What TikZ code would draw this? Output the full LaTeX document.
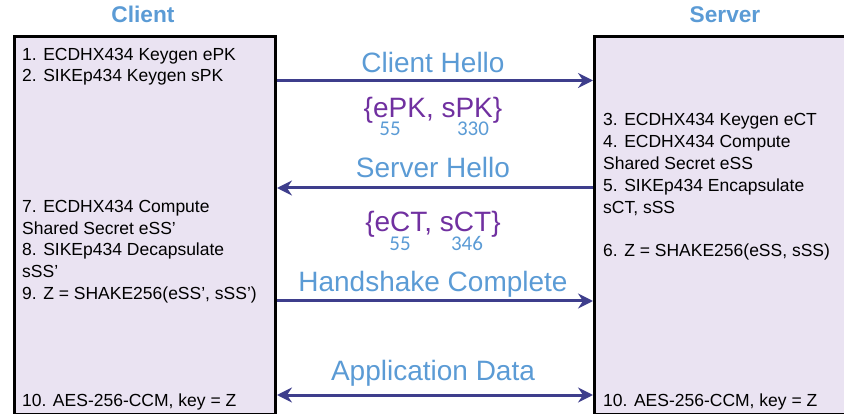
\documentclass[tikz,border=0pt]{standalone}
\usepackage{fontspec}
\setmainfont{Liberation Sans}
\newfontfamily\subfont{Carlito}
\usepackage{tikz}
\usetikzlibrary{arrows.meta,positioning}
\definecolor{partyfill}{RGB}{234,227,242}
\definecolor{msgline}{RGB}{62,62,140}
\definecolor{msgblue}{RGB}{91,155,213}
\definecolor{keypurple}{RGB}{112,48,160}
\tikzstyle{party}=[draw=black, line width=3pt, fill=partyfill, anchor=north west, minimum height=378pt, inner sep=0pt]
\tikzstyle{steps}=[anchor=base west, align=left, inner sep=0pt, font=\fontsize{17.5}{21.8}\selectfont]
\tikzstyle{title}=[anchor=base, text=msgblue, inner sep=0pt, font=\fontsize{22.7}{26}\selectfont\bfseries]
\tikzstyle{msglabel}=[anchor=base, text=msgblue, inner sep=0pt, font=\fontsize{28}{32}\selectfont]
\tikzstyle{keys}=[anchor=base, text=keypurple, inner sep=0pt, font=\fontsize{28}{32}\selectfont]
\tikzstyle{size}=[anchor=base, text=msgblue, inner sep=0pt, font=\subfont\fontsize{21}{24}\selectfont]
\tikzstyle{msg}=[draw=msgline, line width=3pt]
\newcommand{\tip}{Stealth[length=15pt, width=15pt, inset=5pt]}
\begin{document}
\begin{tikzpicture}[x=1pt, y=-1pt]
	\useasboundingbox (0,0) rectangle (844,414);
	\node[party, minimum width=261pt] (client) at (13,35) {};
	\node[party, minimum width=270pt] (server) at (593,35) {};
	\node[title] (ctitle) at (143,23) {Client};
	\node[title] (stitle) at (725,23) {Server};
	% client side (base = last line)
	\node[steps] (c1) at (22,82) {1. ECDHX434 Keygen ePK\\2. SIKEp434 Keygen sPK};
	\node[steps] (c2) at (22,299.5) {7. ECDHX434 Compute\\Shared Secret eSS'\\8. SIKEp434 Decapsulate\\sSS'\\9. Z = SHAKE256(eSS', sSS')};
	\node[steps] (c3) at (22,406.5) {10. AES-256-CCM, key = Z};
	% server side
	\node[steps] (s1) at (603,256.7) {3. ECDHX434 Keygen eCT\\4. ECDHX434 Compute\\Shared Secret eSS\\5. SIKEp434 Encapsulate\\sCT, sSS\\[21.8pt]6. Z = SHAKE256(eSS, sSS)};
	\node[steps] (s2) at (603,406.5) {10. AES-256-CCM, key = Z};
	% messages
	\node[msglabel] (hello1) at (433,73) {Client Hello};
	\node[keys] (keys1) at (433,118) {\{ePK, sPK\}};
	\node[size] (len1a) at (390,136) {55};
	\node[size] (len1b) at (473,136) {330};
	\node[msglabel] (hello2) at (433,178) {Server Hello};
	\node[keys] (keys2) at (433,232) {\{eCT, sCT\}};
	\node[size] (len2a) at (400,251) {55};
	\node[size] (len2b) at (467,251) {346};
	\node[msglabel] (done) at (433,292) {Handshake Complete};
	\node[msglabel] (data) at (433,380) {Application Data};
	\coordinate (m1) at (0,80.5);
	\coordinate (m2) at (0,188);
	\coordinate (m3) at (0,301);
	\coordinate (m4) at (0,395);
	\draw[msg, -{\tip}] (client.east |- m1) -- (server.west |- m1);
	\draw[msg, -{\tip}] (server.west |- m2) -- (client.east |- m2);
	\draw[msg, -{\tip}] (client.east |- m3) -- (server.west |- m3);
	\draw[msg, {\tip}-{\tip}] (client.east |- m4) -- (server.west |- m4);
\end{tikzpicture}
\end{document}
